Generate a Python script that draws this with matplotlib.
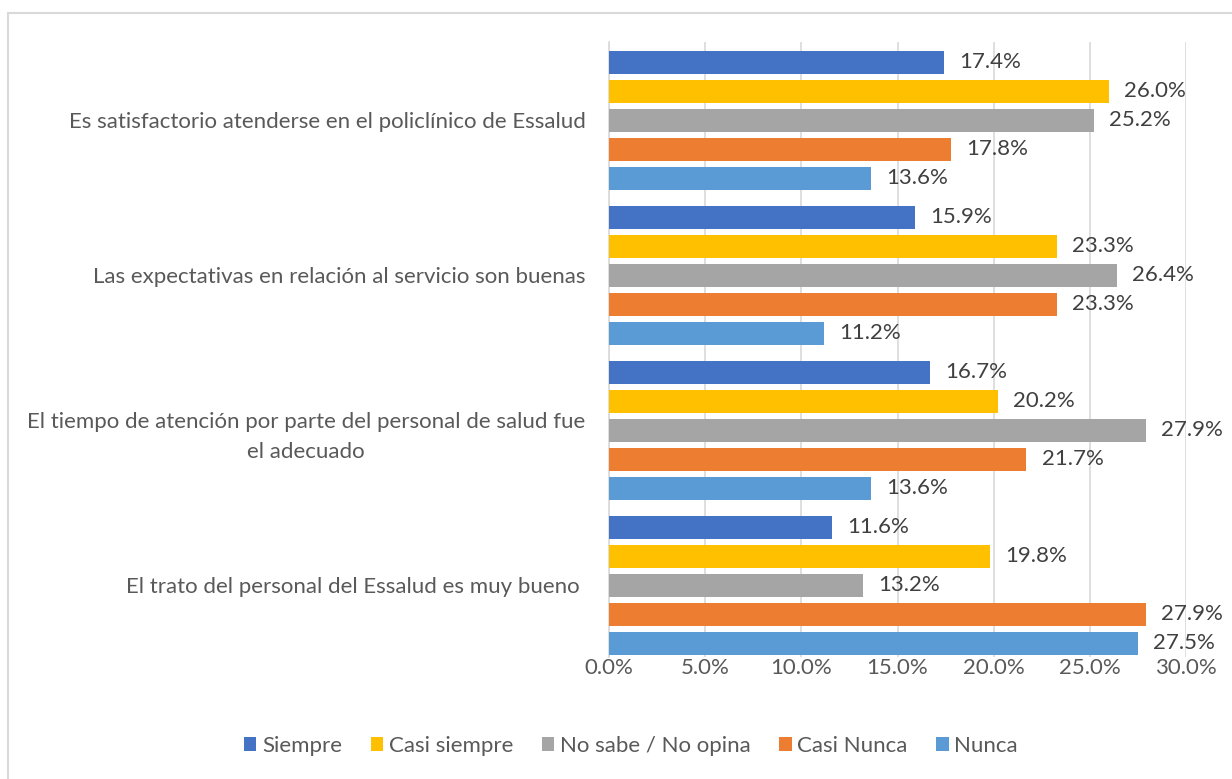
import matplotlib
matplotlib.use("Agg")
import matplotlib.pyplot as plt
import numpy as np
from matplotlib.patches import Rectangle
from matplotlib.ticker import FuncFormatter, MultipleLocator

categories = [
    "Es satisfactorio atenderse en el policlínico de Essalud",
    "Las expectativas en relación al servicio son buenas",
    "El tiempo de atención por parte del personal de salud fue\nel adecuado",
    "El trato del personal del Essalud es muy bueno ",
]
series_names = ["Siempre", "Casi siempre", "No sabe / No opina", "Casi Nunca", "Nunca"]
siempre = [17.4, 15.9, 16.7, 11.6]
casi_siempre = [26.0, 23.3, 20.2, 19.8]
no_sabe = [25.2, 26.4, 27.9, 13.2]
casi_nunca = [17.8, 23.3, 21.7, 27.9]
nunca = [13.6, 11.2, 13.6, 27.5]
series_values = [siempre, casi_siempre, no_sabe, casi_nunca, nunca]
colors = ["#4472C4", "#FFC000", "#A5A5A5", "#ED7D31", "#5B9BD5"]

plt.rcParams['font.family'] = ['Lato', 'DejaVu Sans']

W, H = 1232, 779
fig = plt.figure(figsize=(W / 100, H / 100), dpi=100)
ax = fig.add_axes([609 / W, 1 - 657 / H, (1186 - 609) / W, (657 - 42) / H])

pitch = 0.187
height = 0.148
y = np.arange(len(categories))
text_color = "#595959"
fs = 16
for i, (name, vals, c) in enumerate(zip(series_names, series_values, colors)):
    pos = y + (i - 2) * pitch
    bars = ax.barh(pos, vals, height=height, color=c, label=name, zorder=3)
    lbls = ax.bar_label(bars, labels=[f"{v:.1f}%" for v in vals], padding=11,
                        fontsize=fs, color="#404040")

ax.set_ylim(3.462, -0.506)
ax.set_xlim(0, 30)
ax.xaxis.set_major_locator(MultipleLocator(5))
ax.xaxis.set_major_formatter(FuncFormatter(lambda v, p: f"{v:.1f}%"))
ax.set_yticks(y)
ax.set_yticklabels(categories, fontsize=fs, color=text_color, multialignment="center",
                   linespacing=1.6)
ax.tick_params(axis="y", length=0, pad=17)
ax.tick_params(axis="x", length=0, pad=1, labelsize=fs, labelcolor=text_color)
ax.grid(axis="x", color="#D9D9D9", linewidth=1.2, zorder=0)
for s in ["top", "right", "bottom"]:
    ax.spines[s].set_visible(False)
ax.spines["left"].set_color("#D9D9D9")
ax.spines["left"].set_linewidth(1.2)

fig.legend(loc="center", bbox_to_anchor=(631 / W, 1 - 746 / H), ncol=5, frameon=False,
           fontsize=fs, labelcolor=text_color, handlelength=0.55, handleheight=0.55,
           handletextpad=0.25, columnspacing=1.3)

fig.patches.append(Rectangle((8 / W, -0.1), 1.2, 1 - 13 / H + 0.1, transform=fig.transFigure,
                             fill=False, edgecolor="#D9D9D9", linewidth=1.5))

fig.savefig("out.png", dpi=100, facecolor="white")
